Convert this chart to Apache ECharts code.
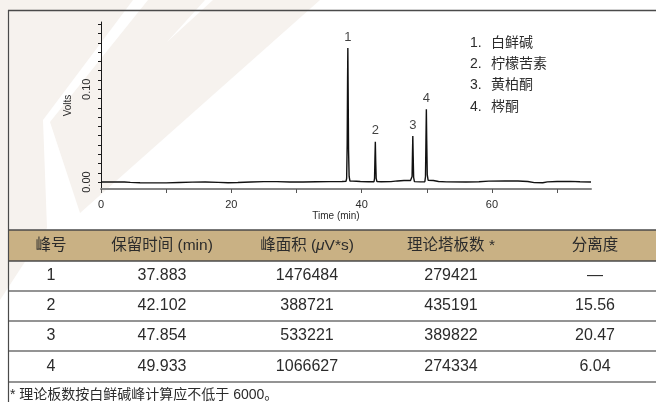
<!DOCTYPE html>
<html>
<head>
<meta charset="utf-8">
<script src="https://cdn.jsdelivr.net/npm/echarts@6/dist/echarts.min.js"></script>
<style>
  html, body { margin: 0; padding: 0; background: #fff; }
  #chart { width: 656px; height: 402px; }
</style>
</head>
<body>
<div id="chart"></div>
<script>
// Peak table
const peakNumbers = ['1', '2', '3', '4'];
const compoundNames = ['白鲜碱', '柠檬苦素', '黄柏酮', '梣酮'];
const retentionTimes = [37.883, 42.102, 47.854, 49.933];
const peakHeights = [0.1444, 0.0433, 0.0495, 0.0785];
const peakAreas = ['1476484', '388721', '533221', '1066627'];
const plateCounts = ['279421', '435191', '389822', '274334'];
const resolutions = ['—', '15.56', '20.47', '6.04'];
const tableHeaders = ['峰号', '保留时间 (min)', '峰面积 (μV*s)', '理论塔板数 *', '分离度'];
const footnote = '* 理论板数按白鲜碱峰计算应不低于 6000。';

// Axis ticks and labels
const xTickValues = [0, 10, 20, 30, 40, 50, 60, 70];
const xLabelValues = [0, 20, 40, 60];
const yTickValues = [0, 0.01, 0.02, 0.03, 0.04, 0.05, 0.06, 0.07, 0.08, 0.09,
                     0.10, 0.11, 0.12, 0.13, 0.14, 0.15, 0.16, 0.17];
const yLabelValues = [0, 0.10];

// Detector trace: [time (min), signal (V)]
const trace = [
  [0, 0.0000], [1, 0.0000], [2.5, 0.0001], [3.2, 0.0002], [3.4, 0.0016], [3.6, 0.0001],
  [4.5, -0.0004], [6, -0.0007], [8, -0.0009], [10, -0.0009], [12, -0.0005], [14, -0.0001],
  [16, 0.0000], [18, -0.0004], [19.5, -0.0008], [21, -0.0005], [23, 0.0001], [25, 0.0004],
  [27, 0.0004], [29, 0.0000], [31, 0.0001], [33, 0.0003], [35, 0.0005], [37, 0.0006],
  [37.60, 0.0007], [37.70, 0.0040], [37.78, 0.0400], [37.84, 0.1100], [37.883, 0.1444],
  [37.93, 0.1000], [37.99, 0.0350], [38.08, 0.0060], [38.20, 0.0012],
  [38.6, 0.0010], [39.2, 0.0008], [39.5, 0.0014], [39.8, 0.0006], [41, 0.0003],
  [41.90, 0.0003], [41.98, 0.0040], [42.04, 0.0250], [42.102, 0.0433], [42.16, 0.0220],
  [42.23, 0.0040], [42.35, 0.0005],
  [43, 0.0003], [44.5, 0.0004], [45.5, 0.0012], [46.5, 0.0016], [47.5, 0.0016],
  [47.65, 0.0016], [47.74, 0.0060], [47.80, 0.0300], [47.854, 0.0495], [47.91, 0.0280],
  [47.98, 0.0050], [48.10, 0.0005],
  [49, 0.0002], [49.70, 0.0003], [49.80, 0.0060], [49.87, 0.0450], [49.933, 0.0785],
  [49.99, 0.0450], [50.07, 0.0080], [50.20, 0.0020],
  [51, 0.0016], [51.8, 0.0006], [53, 0.0002], [56, 0.0001], [58, 0.0003], [59.5, 0.0010],
  [62, 0.0012], [64, 0.0011], [65.5, 0.0006], [66.5, -0.0006], [67.8, -0.0007],
  [68.5, 0.0002], [70, 0.0006], [72, 0.0007], [73.5, 0.0003], [75.2, 0.0000]
];

const FONT = '"Liberation Sans", Arial, "Noto Sans CJK SC", sans-serif';
const TEXT = '#2b2b2b';
const TINT = '#f6f2ee';

// Table layout
const colCenters = [51, 162, 307, 451, 595];
const headerTop = 230, headerBottom = 261;
const rowLines = [291, 321, 351, 382];
const rowCenters = [276, 306, 336, 366.5];

const graphics = [];

// faint background emblem
graphics.push({ type: 'polygon', shape: { points: [[0, 0], [133, 0], [43, 120], [47, 228], [0, 300]] },
  style: { fill: TINT }, z: -1 });
graphics.push({ type: 'polygon', shape: { points: [[148, 0], [205, 0], [167, 42], [213, 0], [320, 0], [80, 213], [50, 122]] },
  style: { fill: TINT }, z: -1 });

// frame
graphics.push({ type: 'line', shape: { x1: 8, y1: 10.5, x2: 656, y2: 10.5 },
  style: { stroke: '#4a4a4a', lineWidth: 1.5 }, z: 10 });
graphics.push({ type: 'line', shape: { x1: 8.5, y1: 10, x2: 8.5, y2: 402 },
  style: { stroke: '#4a4a4a', lineWidth: 1.2 }, z: 10 });

// compound key
compoundNames.forEach((name, i) => {
  const y = 42.7 + i * 21.4;
  graphics.push({ type: 'text', style: { text: peakNumbers[i] + '.', x: 470, y,
    fill: TEXT, fontSize: 14, fontFamily: FONT, verticalAlign: 'middle' }, z: 10 });
  graphics.push({ type: 'text', style: { text: name, x: 491, y,
    fill: TEXT, fontSize: 14, fontFamily: FONT, verticalAlign: 'middle' }, z: 10 });
});

// table header band
graphics.push({ type: 'rect', shape: { x: 8, y: headerTop, width: 648, height: headerBottom - headerTop },
  style: { fill: '#c9b184' }, z: 5 });
[headerTop, headerBottom].forEach(y => graphics.push({ type: 'line',
  shape: { x1: 8, y1: y, x2: 656, y2: y }, style: { stroke: '#4a4a4a', lineWidth: 1.5 }, z: 6 }));
rowLines.forEach(y => graphics.push({ type: 'line',
  shape: { x1: 8, y1: y, x2: 656, y2: y }, style: { stroke: '#707070', lineWidth: 1.5 }, z: 6 }));

tableHeaders.forEach((h, c) => {
  const parts = h.split('μ');
  const rich = parts.length > 1
    ? parts[0] + '{mu|μ}' + parts[1]
    : h;
  graphics.push({ type: 'text', style: {
    text: rich, x: colCenters[c], y: (headerTop + headerBottom) / 2,
    fill: TEXT, fontSize: 15.5, fontFamily: FONT, align: 'center', verticalAlign: 'middle',
    rich: { mu: { fontStyle: 'italic', fontSize: 15.5, fontFamily: FONT, fill: TEXT } }
  }, z: 7 });
});

const columns = [peakNumbers, retentionTimes.map(v => v.toFixed(3)), peakAreas, plateCounts, resolutions];
columns.forEach((col, c) => col.forEach((v, r) => {
  graphics.push({ type: 'text', style: { text: v, x: colCenters[c], y: rowCenters[r],
    fill: TEXT, fontSize: 16, fontFamily: FONT, align: 'center', verticalAlign: 'middle' }, z: 7 });
}));

graphics.push({ type: 'text', style: { text: footnote, x: 10, y: 395.5,
  fill: TEXT, fontSize: 14, fontFamily: FONT, verticalAlign: 'middle' }, z: 7 });

const chart = echarts.init(document.getElementById('chart'), null, { renderer: 'canvas' });
chart.setOption({
  animation: false,
  backgroundColor: '#fff',
  grid: { left: 101, right: 65, top: 22, bottom: 213, containLabel: false },
  xAxis: {
    type: 'value', min: 0, max: 75.2,
    name: 'Time (min)', nameLocation: 'middle', nameGap: 22,
    nameTextStyle: { fontSize: 10, fontFamily: FONT, color: TEXT, padding: [0, 20, 0, 0] },
    axisLine: { show: true, onZero: false, lineStyle: { color: '#858585', width: 2 } },
    axisTick: { show: true, customValues: xTickValues, length: 4, lineStyle: { color: '#555', width: 1 } },
    axisLabel: { customValues: xLabelValues, margin: 10, fontSize: 11, fontFamily: FONT, color: TEXT,
      formatter: v => String(v) },
    splitLine: { show: false }
  },
  yAxis: {
    type: 'value', min: -0.0075, max: 0.1725,
    name: 'Volts', nameLocation: 'middle', nameGap: 21,
    nameTextStyle: { fontSize: 10, fontFamily: FONT, color: TEXT },
    axisLine: { show: true, onZero: false, lineStyle: { color: '#1a1a1a', width: 1 } },
    axisTick: { show: true, customValues: yTickValues, length: 3, lineStyle: { color: '#1a1a1a', width: 1 } },
    axisLabel: { customValues: yLabelValues, rotate: 90, margin: 9, fontSize: 11, fontFamily: FONT, color: TEXT,
      formatter: v => v.toFixed(2) },
    splitLine: { show: false }
  },
  series: [
    {
      type: 'line', data: trace, showSymbol: false, symbol: 'none',
      lineStyle: { color: '#111', width: 1.4 }, z: 3
    },
    {
      type: 'scatter', symbolSize: 1,
      itemStyle: { color: 'rgba(0,0,0,0)' },
      data: retentionTimes.map((t, i) => [t, peakHeights[i]]),
      label: { show: true, position: 'top', distance: 4, fontSize: 13, fontFamily: FONT, color: '#111',
        formatter: p => peakNumbers[p.dataIndex] },
      z: 4
    }
  ],
  graphic: graphics
});
</script>
</body>
</html>
